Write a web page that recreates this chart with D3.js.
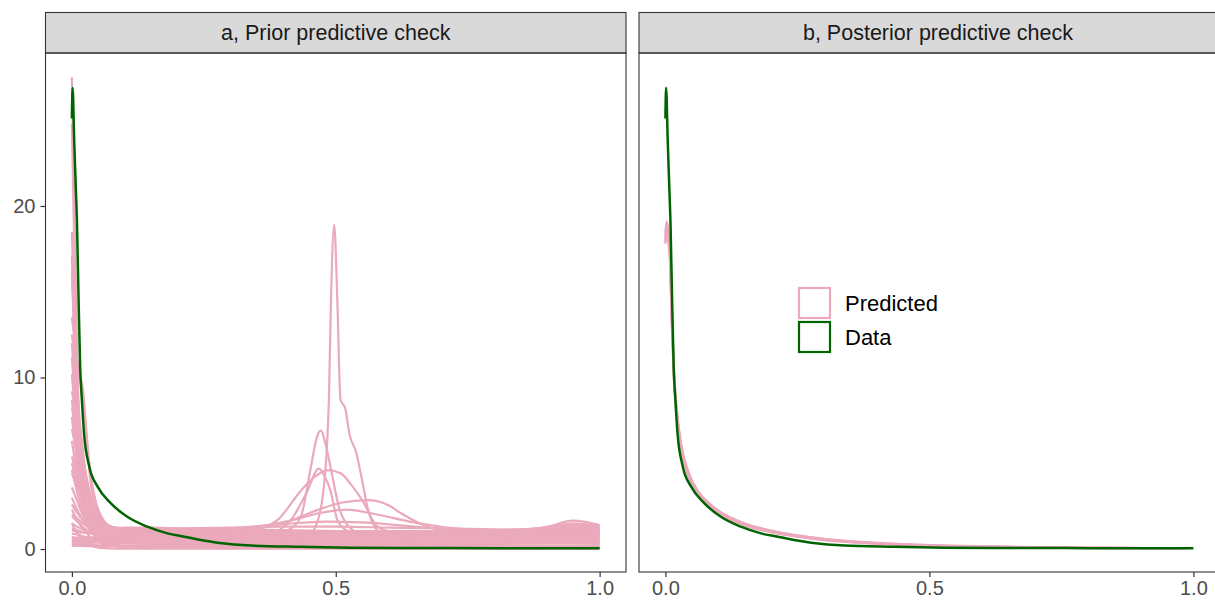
<!DOCTYPE html>
<html>
<head>
<meta charset="utf-8">
<script src="https://cdn.jsdelivr.net/npm/d3@7"></script>
<style>
  html, body { margin: 0; padding: 0; background: #fff; }
  text { font-family: "Liberation Sans", Arial, sans-serif; }
</style>
</head>
<body>
<svg id="chart" width="1215" height="603"></svg>
<script>
// panel titles and ticks
const panelTitles = ["a, Prior predictive check", "b, Posterior predictive check"];
const xTicks = [0, 0.5, 1];
const yTicks = [0, 10, 20];
const legendLabels = ["Predicted", "Data"];

// observed data density (same in both panels)
const dataCurve = [
  [0, 25.1], [0.0013, 26.9], [0.0044, 23.8], [0.0076, 20.9], [0.0095, 19.2], [0.0127, 14.5],
  [0.0157, 10.6], [0.019, 8.66], [0.023, 6.73], [0.033, 4.8], [0.049, 3.62], [0.074, 2.66],
  [0.105, 1.88], [0.143, 1.3], [0.181, 0.91], [0.213, 0.72], [0.244, 0.52], [0.276, 0.37],
  [0.339, 0.2], [0.434, 0.13], [0.528, 0.08], [0.65, 0.06], [0.8, 0.05], [1, 0.04]
];

// prior predictive draws, sampled on a common x grid
const priorGrid = [0, 0.01, 0.02, 0.035, 0.05, 0.075, 0.1, 0.15, 0.2, 0.3, 0.4, 0.5, 0.6, 0.7, 0.8, 0.9, 0.95, 1.0];
const priorDraws = [
  [27.5, 11, 5, 2.6, 1.6, 1.25, 1.2, 1.15, 1.1, 1.05, 1.0, 0.95, 0.9, 0.9, 0.95, 1.1, 1.2, 1.1],
  [24.8, 9, 4.2, 2.2, 1.4, 1.1, 1.05, 1.0, 1.0, 0.95, 0.9, 0.9, 0.85, 0.85, 0.9, 1.0, 1.05, 1.0],
  [18.5, 9.5, 6, 2.8, 1.8, 1.3, 1.2, 1.15, 1.1, 1.1, 1.05, 1.0, 1.0, 1.0, 1.05, 1.25, 1.5, 1.3],
  [17.1, 7.5, 4, 1.9, 1.2, 1.0, 0.95, 0.9, 0.9, 0.85, 0.8, 0.8, 0.75, 0.75, 0.8, 0.9, 0.95, 0.85],
  [16.1, 8.5, 5.2, 2.4, 1.5, 1.2, 1.15, 1.1, 1.05, 1.0, 1.0, 0.95, 0.95, 0.95, 1.0, 1.15, 1.3, 1.2],
  [13.5, 11, 9, 4.5, 2.3, 1.3, 1.2, 1.15, 1.1, 1.05, 1.0, 1.0, 0.95, 0.95, 1.0, 1.2, 1.4, 1.25],
  [12.5, 10.5, 9.5, 4.0, 2.1, 1.3, 1.2, 1.15, 1.15, 1.1, 1.05, 1.05, 1.0, 1.0, 1.05, 1.3, 1.65, 1.4],
  [12.0, 8, 5.5, 2.8, 1.6, 1.1, 1.0, 0.95, 0.9, 0.9, 0.85, 0.85, 0.8, 0.8, 0.85, 0.95, 1.0, 0.9],
  [11.2, 7, 4.2, 2.2, 1.3, 0.9, 0.85, 0.8, 0.8, 0.75, 0.7, 0.7, 0.7, 0.7, 0.75, 0.8, 0.85, 0.8],
  [10.2, 6.5, 3.8, 1.9, 1.2, 0.8, 0.7, 0.65, 0.6, 0.6, 0.6, 0.6, 0.6, 0.6, 0.65, 0.7, 0.7, 0.65],
  [9.2, 7.5, 5.5, 3.2, 1.9, 1.25, 1.15, 1.1, 1.05, 1.0, 0.95, 0.95, 0.95, 0.95, 1.0, 1.1, 1.25, 1.15],
  [8.7, 5.8, 3.5, 1.7, 1.0, 0.6, 0.5, 0.45, 0.45, 0.45, 0.45, 0.45, 0.45, 0.45, 0.45, 0.5, 0.5, 0.45],
  [8.2, 6.8, 5.0, 2.8, 1.7, 1.2, 1.1, 1.05, 1.0, 0.95, 0.95, 0.9, 0.9, 0.9, 0.95, 1.05, 1.15, 1.0],
  [7.7, 5.0, 3.0, 1.4, 0.8, 0.45, 0.35, 0.3, 0.3, 0.3, 0.3, 0.3, 0.3, 0.3, 0.3, 0.35, 0.35, 0.3],
  [7.0, 5.5, 3.9, 2.2, 1.4, 1.0, 0.95, 0.9, 0.85, 0.85, 0.8, 0.8, 0.8, 0.8, 0.85, 0.95, 1.1, 1.0],
  [6.3, 4.3, 2.6, 1.2, 0.6, 0.3, 0.2, 0.2, 0.2, 0.2, 0.2, 0.2, 0.2, 0.2, 0.2, 0.2, 0.2, 0.2],
  [5.4, 4.2, 3.0, 1.8, 1.2, 0.95, 0.9, 0.85, 0.8, 0.75, 0.75, 0.7, 0.7, 0.7, 0.75, 0.85, 0.95, 0.85],
  [4.6, 3.3, 2.2, 1.1, 0.55, 0.25, 0.15, 0.1, 0.1, 0.1, 0.1, 0.1, 0.1, 0.1, 0.1, 0.1, 0.1, 0.1],
  [4.4, 3.6, 2.7, 1.7, 1.2, 1.05, 1.0, 1.0, 0.95, 0.95, 0.9, 0.9, 0.9, 0.9, 0.95, 1.1, 1.35, 1.2],
  [3.6, 2.8, 2.0, 1.2, 0.8, 0.6, 0.55, 0.55, 0.55, 0.55, 0.55, 0.55, 0.55, 0.55, 0.55, 0.6, 0.65, 0.6],
  [3.0, 2.3, 1.7, 1.1, 0.75, 0.5, 0.4, 0.4, 0.4, 0.4, 0.4, 0.4, 0.4, 0.4, 0.4, 0.45, 0.45, 0.4],
  [2.6, 2.1, 1.7, 1.3, 1.15, 1.1, 1.1, 1.1, 1.1, 1.05, 1.05, 1.05, 1.05, 1.05, 1.1, 1.25, 1.45, 1.35],
  [2.3, 1.7, 1.2, 0.7, 0.4, 0.2, 0.12, 0.08, 0.06, 0.05, 0.05, 0.05, 0.05, 0.05, 0.05, 0.05, 0.05, 0.05],
  [1.9, 1.6, 1.3, 1.0, 0.85, 0.8, 0.75, 0.75, 0.75, 0.75, 0.75, 0.7, 0.7, 0.7, 0.75, 0.85, 0.9, 0.8],
  [1.5, 1.3, 1.15, 1.0, 0.95, 0.9, 0.9, 0.9, 0.9, 0.9, 0.85, 0.85, 0.85, 0.85, 0.9, 1.0, 1.15, 1.05],
  [1.2, 1.1, 1.0, 0.9, 0.85, 0.8, 0.8, 0.8, 0.8, 0.8, 0.8, 0.8, 0.8, 0.8, 0.85, 0.9, 1.0, 0.9],
  [0.9, 0.85, 0.75, 0.65, 0.6, 0.6, 0.6, 0.62, 0.65, 0.68, 0.7, 0.7, 0.7, 0.68, 0.65, 0.62, 0.6, 0.55],
  [0.7, 0.65, 0.6, 0.55, 0.5, 0.5, 0.5, 0.5, 0.5, 0.5, 0.5, 0.5, 0.5, 0.5, 0.5, 0.5, 0.5, 0.5],
  [0.5, 0.48, 0.45, 0.4, 0.38, 0.36, 0.35, 0.35, 0.35, 0.35, 0.35, 0.35, 0.35, 0.35, 0.35, 0.35, 0.35, 0.35],
  [1.1, 1.0, 0.95, 0.95, 1.0, 1.05, 1.1, 1.15, 1.2, 1.25, 1.3, 1.3, 1.25, 1.2, 1.15, 1.1, 1.1, 1.05],
  [2.0, 1.8, 1.5, 1.25, 1.2, 1.2, 1.25, 1.25, 1.2, 1.15, 1.1, 1.05, 1.0, 0.95, 0.95, 0.95, 0.95, 0.9],
  [0.3, 0.3, 0.28, 0.25, 0.22, 0.2, 0.2, 0.2, 0.2, 0.2, 0.2, 0.2, 0.2, 0.2, 0.2, 0.2, 0.2, 0.2],
  [1.5, 0.9, 0.5, 0.2, 0.08, 0.03, 0.02, 0.02, 0.02, 0.02, 0.02, 0.02, 0.02, 0.02, 0.02, 0.02, 0.02, 0.02],
  [5.0, 3.8, 2.8, 1.6, 1.0, 0.7, 0.65, 0.65, 0.65, 0.65, 0.65, 0.65, 0.65, 0.65, 0.7, 0.75, 0.8, 0.75]
];

// prior draws with a mode near 0.5
const priorBumps = [
  [[0, 0.2], [0.1, 0.15], [0.3, 0.2], [0.44, 0.5], [0.46, 1.2], [0.475, 3], [0.483, 5.8], [0.487, 8.7],
   [0.491, 14.5], [0.497, 18.9], [0.503, 14.5], [0.509, 8.7], [0.518, 8.2], [0.526, 6.7], [0.539, 5.6],
   [0.55, 4.0], [0.56, 2.45], [0.57, 1.5], [0.6, 0.6], [0.7, 0.2], [1.0, 0.1]],
  [[0, 0.5], [0.1, 0.6], [0.25, 0.7], [0.38, 0.8], [0.41, 1.1], [0.434, 1.9], [0.453, 4.8], [0.465, 6.6],
   [0.472, 6.9], [0.48, 6.2], [0.49, 4.8], [0.506, 2.45], [0.525, 1.3], [0.55, 0.9], [0.7, 0.7], [1.0, 0.6]],
  [[0, 0.6], [0.1, 0.7], [0.25, 0.8], [0.37, 0.9], [0.415, 1.7], [0.445, 3.3], [0.468, 4.69], [0.478, 4.3],
   [0.49, 3.4], [0.503, 1.7], [0.52, 1.1], [0.56, 0.8], [0.8, 0.75], [1.0, 0.7]],
  [[0, 0.4], [0.1, 0.5], [0.2, 0.7], [0.3, 0.9], [0.36, 1.2], [0.39, 1.7], [0.434, 3.4], [0.46, 4.2],
   [0.485, 4.6], [0.51, 4.4], [0.528, 3.8], [0.553, 2.7], [0.579, 1.3], [0.62, 0.9], [0.8, 0.7], [1.0, 0.6]],
  [[0, 0.3], [0.1, 0.5], [0.2, 0.8], [0.3, 1.1], [0.4, 1.5], [0.465, 2.27], [0.51, 2.7], [0.56, 2.85],
   [0.6, 2.55], [0.623, 2.1], [0.674, 1.3], [0.72, 1.0], [0.85, 0.8], [1.0, 0.7]],
  [[0, 0.4], [0.15, 0.8], [0.25, 1.1], [0.35, 1.3], [0.42, 1.7], [0.47, 2.1], [0.52, 2.3], [0.58, 2.0],
   [0.64, 1.6], [0.7, 1.3], [0.85, 1.0], [1.0, 0.9]],
  [[0, 0.6], [0.15, 0.9], [0.3, 1.2], [0.4, 1.45], [0.48, 1.6], [0.55, 1.55], [0.65, 1.3], [0.75, 1.1],
   [0.9, 1.0], [1.0, 0.95]]
];

// posterior predictive draws
const posteriorDraws = [
  [[0, 17.8], [0.002, 18.8], [0.005, 18.5], [0.009, 17], [0.012, 13.8], [0.016, 10.4], [0.022, 7.9],
   [0.03, 6.0], [0.045, 4.3], [0.06, 3.4], [0.08, 2.7], [0.1, 2.2], [0.15, 1.45], [0.2, 1.05],
   [0.25, 0.78], [0.3, 0.58], [0.38, 0.38], [0.5, 0.22], [0.6, 0.15], [0.7, 0.1], [0.8, 0.07], [0.9, 0.05], [0.98, 0.04]],
  [[0, 18.4], [0.002, 19.1], [0.005, 18.7], [0.009, 16.8], [0.012, 13.5], [0.016, 10.2], [0.022, 7.8],
   [0.03, 5.9], [0.045, 4.2], [0.06, 3.3], [0.08, 2.65], [0.1, 2.15], [0.15, 1.4], [0.2, 1.0],
   [0.25, 0.75], [0.3, 0.55], [0.38, 0.36], [0.5, 0.2], [0.6, 0.14], [0.7, 0.1], [0.8, 0.07], [0.9, 0.05], [0.97, 0.04]],
  [[0, 17.9], [0.002, 18.3], [0.005, 18.0], [0.009, 16.5], [0.012, 13.2], [0.016, 10.0], [0.022, 7.6],
   [0.03, 5.8], [0.045, 4.1], [0.06, 3.25], [0.08, 2.6], [0.1, 2.1], [0.15, 1.38], [0.2, 0.98],
   [0.25, 0.72], [0.3, 0.52], [0.38, 0.34], [0.5, 0.19], [0.6, 0.13], [0.7, 0.09], [0.8, 0.06], [0.9, 0.05], [0.99, 0.04]],
  [[0, 18.2], [0.002, 18.9], [0.005, 18.6], [0.009, 17.2], [0.012, 14.0], [0.016, 10.6], [0.022, 8.0],
   [0.03, 6.1], [0.045, 4.4], [0.06, 3.45], [0.08, 2.75], [0.1, 2.25], [0.15, 1.5], [0.2, 1.08],
   [0.25, 0.8], [0.3, 0.6], [0.38, 0.4], [0.5, 0.23], [0.6, 0.16], [0.7, 0.11], [0.8, 0.08], [0.9, 0.06], [0.96, 0.05]],
  [[0, 18.0], [0.002, 18.6], [0.005, 18.3], [0.009, 16.7], [0.012, 13.4], [0.016, 10.1], [0.022, 7.7],
   [0.03, 5.85], [0.045, 4.15], [0.06, 3.28], [0.08, 2.62], [0.1, 2.12], [0.15, 1.4], [0.2, 1.0],
   [0.25, 0.74], [0.3, 0.54], [0.38, 0.35], [0.5, 0.2], [0.6, 0.14], [0.7, 0.1], [0.8, 0.07], [0.9, 0.05], [0.98, 0.04]]
];

const pink = "#eba9bc";
const green = "#006400";
const frame = "#333333";

const svg = d3.select("#chart");

const stripTop = 12.5, stripBottom = 53, plotBottom = 572;
// box = drawn frame, range = pixel span of the [-0.05, 1.05] x domain
const panels = [
  { x0: 45.5, x1: 626, r0: 45.5, r1: 626 },
  { x0: 639, x1: 1237, r0: 639, r1: 1219.8 }
];

const y = d3.scaleLinear().domain([-1.34, 28.92]).range([plotBottom, stripBottom]);

panels.forEach((p, i) => {
  p.x = d3.scaleLinear().domain([-0.05, 1.05]).range([p.r0, p.r1]);

  const g = svg.append("g");

  // strip
  g.append("rect")
    .attr("x", p.x0).attr("y", stripTop)
    .attr("width", p.x1 - p.x0).attr("height", stripBottom - stripTop)
    .attr("fill", "#d9d9d9").attr("stroke", frame).attr("stroke-width", 1.1);
  g.append("text")
    .attr("x", (p.x0 + p.x1) / 2)
    .attr("y", 40)
    .attr("text-anchor", "middle")
    .attr("fill", "#1a1a1a")
    .style("font-size", "21.5px")
    .text(panelTitles[i]);

  // x axis
  const xAxis = g.append("g")
    .attr("transform", "translate(0," + plotBottom + ")")
    .call(d3.axisBottom(p.x).tickValues(xTicks).tickFormat(d3.format(".1f")).tickSize(5).tickPadding(4));
  xAxis.select(".domain").remove();
  xAxis.selectAll("line").attr("stroke", frame).attr("stroke-width", 1.2);
  xAxis.selectAll("text").attr("fill", "#4d4d4d").style("font-size", "20px")
    .style("font-family", "'Liberation Sans', Arial, sans-serif");

  if (i === 0) {
    const yAxis = g.append("g")
      .attr("transform", "translate(" + p.x0 + ",0)")
      .call(d3.axisLeft(y).tickValues(yTicks).tickSize(5).tickPadding(5));
    yAxis.select(".domain").remove();
    yAxis.selectAll("line").attr("stroke", frame).attr("stroke-width", 1.2);
    yAxis.selectAll("text").attr("fill", "#4d4d4d").style("font-size", "20px")
      .style("font-family", "'Liberation Sans', Arial, sans-serif");
  }
});

const lineFor = sx => d3.line()
  .x(d => sx(d[0]))
  .y(d => y(d[1]))
  .curve(d3.curveMonotoneX);

// panel a
const pa = panels[0];
const gA = svg.append("g");
const priorCurves = priorDraws.map(row => row.map((v, k) => [priorGrid[k], v])).concat(priorBumps);
gA.selectAll("path.pred")
  .data(priorCurves)
  .enter().append("path")
    .attr("class", "pred")
    .attr("d", lineFor(pa.x))
    .attr("fill", "none")
    .attr("stroke", pink)
    .attr("stroke-width", 2.2);
gA.append("path")
  .datum(dataCurve)
  .attr("d", lineFor(pa.x))
  .attr("fill", "none")
  .attr("stroke", green)
  .attr("stroke-width", 2.5);

// panel b
const pb = panels[1];
const gB = svg.append("g");
gB.selectAll("path.pred")
  .data(posteriorDraws)
  .enter().append("path")
    .attr("class", "pred")
    .attr("d", lineFor(pb.x))
    .attr("fill", "none")
    .attr("stroke", pink)
    .attr("stroke-width", 2.2);
gB.append("path")
  .datum(dataCurve)
  .attr("d", lineFor(pb.x))
  .attr("fill", "none")
  .attr("stroke", green)
  .attr("stroke-width", 2.5);

// panel borders on top of lines
panels.forEach(p => {
  svg.append("rect")
    .attr("x", p.x0).attr("y", stripBottom)
    .attr("width", p.x1 - p.x0).attr("height", plotBottom - stripBottom)
    .attr("fill", "none").attr("stroke", frame).attr("stroke-width", 1.1);
});

// legend
const legendColors = [pink, green];
const legend = svg.append("g").attr("transform", "translate(798,287)");
legendLabels.forEach((lab, k) => {
  legend.append("rect")
    .attr("x", 1).attr("y", 1 + k * 34)
    .attr("width", 31).attr("height", 30)
    .attr("fill", "#fff")
    .attr("stroke", legendColors[k])
    .attr("stroke-width", 2.2);
  legend.append("text")
    .attr("x", 47).attr("y", 16 + k * 34)
    .attr("dy", "0.35em")
    .attr("fill", "#000")
    .style("font-size", "22px")
    .text(lab);
});
</script>
</body>
</html>
